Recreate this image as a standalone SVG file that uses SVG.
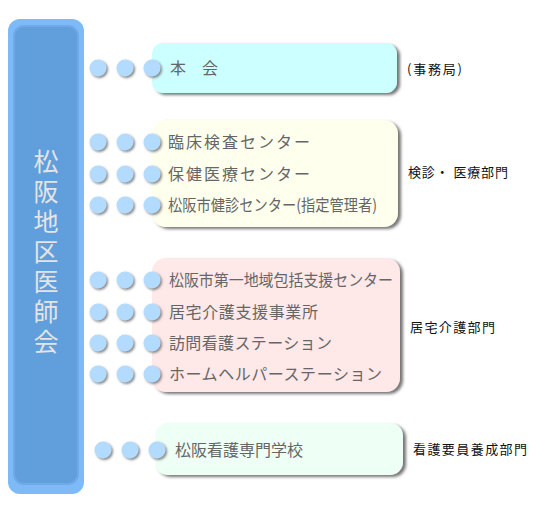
<svg xmlns="http://www.w3.org/2000/svg" width="550" height="514" viewBox="0 0 550 514">
<defs>
<filter id="bsh" x="-5%" y="-10%" width="115%" height="130%"><feDropShadow dx="3" dy="2" stdDeviation="1.5" flood-color="#555" flood-opacity="0.8"/></filter>
<filter id="csh" x="-30%" y="-30%" width="170%" height="170%"><feDropShadow dx="1.5" dy="1.5" stdDeviation="0.8" flood-color="#777" flood-opacity="0.9"/></filter>
<g id="dots">
<circle cx="0" cy="0" r="8.5"/><circle cx="27" cy="0" r="8.5"/><circle cx="54" cy="0" r="8.5"/>
</g>
</defs>
<style>
.box{filter:url(#bsh)}
.dot{fill:#b3dbff;filter:url(#csh)}
.t{font-family:"Noto Sans CJK JP","Noto Sans",sans-serif;font-size:16px;fill:#666}
.r{font-family:"Noto Sans CJK JP","Noto Sans",sans-serif;font-size:13px;fill:#111}
.v{font-family:"Noto Sans CJK JP",sans-serif;font-size:25px;fill:#e4e4e4;writing-mode:vertical-rl;letter-spacing:5px}
</style>
<rect width="550" height="514" fill="#fff"/>
<g id="org">
<rect x="8" y="19" width="76" height="475" rx="12" fill="#7dbaf7"/>
<rect x="14" y="26" width="64" height="458" rx="10" fill="#609fdc" stroke="#6fa9e6" stroke-width="2"/>
<text class="v" x="46" y="149">松阪地区医師会</text>
</g>
<g id="honkai">
<rect class="box" x="152" y="43" width="245" height="50" rx="11" fill="#ccffff"/>
<g class="dot"><use href="#dots" x="98" y="68"/></g>
<text class="t" x="170" y="74" textLength="48">本　会</text>
<text class="r" x="407" y="74" textLength="55">(事務局)</text>
</g>
<g id="kenshin">
<rect class="box" x="152" y="120" width="246" height="107" rx="14" fill="#ffffee"/>
<g class="dot"><use href="#dots" x="98" y="142"/><use href="#dots" x="98" y="174"/><use href="#dots" x="98" y="205"/></g>
<text class="t" x="168" y="148" textLength="142">臨床検査センター</text>
<text class="t" x="168" y="180" textLength="142">保健医療センター</text>
<text class="t" x="168" y="211" textLength="209" lengthAdjust="spacingAndGlyphs">松阪市健診センター(指定管理者)</text>
<text class="r" x="408" y="177" textLength="100">検診・ 医療部門</text>
</g>
<g id="kyotaku">
<rect class="box" x="152" y="258" width="248" height="134" rx="14" fill="#ffe8e8"/>
<g class="dot"><use href="#dots" x="98" y="280"/><use href="#dots" x="98" y="312"/><use href="#dots" x="98" y="343"/><use href="#dots" x="98" y="374"/></g>
<text class="t" x="169" y="286" textLength="224" lengthAdjust="spacingAndGlyphs">松阪市第一地域包括支援センター</text>
<text class="t" x="169" y="318" textLength="149">居宅介護支援事業所</text>
<text class="t" x="169" y="349" textLength="163">訪問看護ステーション</text>
<text class="t" x="169" y="380" textLength="213">ホームヘルパーステーション</text>
<text class="r" x="410" y="332" textLength="85">居宅介護部門</text>
</g>
<g id="gakko">
<rect class="box" x="155" y="423" width="248" height="52" rx="13" fill="#eefff5"/>
<g class="dot"><use href="#dots" x="103" y="450"/></g>
<text class="t" x="175" y="456" textLength="128">松阪看護専門学校</text>
<text class="r" x="413" y="454" textLength="114">看護要員養成部門</text>
</g>
<g id="connectors"/>
</svg>
